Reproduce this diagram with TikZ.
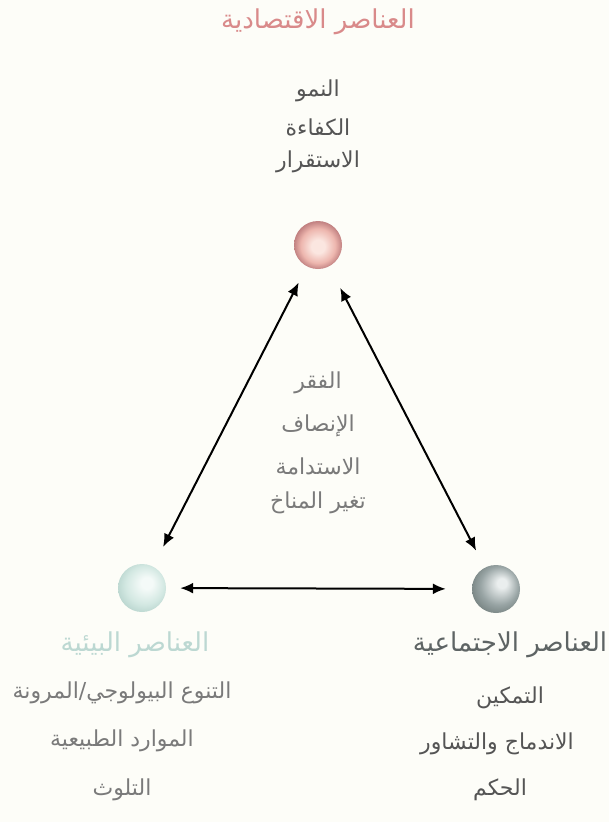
\documentclass[tikz,border=0pt]{standalone}
\usepackage{fontspec}
\usetikzlibrary{arrows.meta}
\TeXXeTstate=1
\newfontfamily\arabicfont[Script=Arabic]{DejaVu Sans}
\definecolor{bgc}{HTML}{FDFDF8}
\definecolor{ecoc}{HTML}{D98A8A}
\definecolor{envc}{HTML}{BCD8D2}
\definecolor{socc}{HTML}{5E6464}
\definecolor{txtc}{HTML}{555555}
\definecolor{midc}{HTML}{7A7A7A}
\definecolor{ecoA}{HTML}{FBE6E0}
\definecolor{ecoB}{HTML}{EDB6AE}
\definecolor{ecoC}{HTML}{C28282}
\definecolor{envA}{HTML}{F4FAF8}
\definecolor{envB}{HTML}{D3E8E2}
\definecolor{envC}{HTML}{AFCEC7}
\definecolor{socA}{HTML}{EAEEEE}
\definecolor{socB}{HTML}{98A4A4}
\definecolor{socC}{HTML}{65716F}
\pgfdeclareradialshading{ecoball}{\pgfpoint{0bp}{-2bp}}{color(0bp)=(ecoA); color(7bp)=(ecoA); color(18bp)=(ecoB); color(25bp)=(ecoC); color(30bp)=(ecoC)}
\pgfdeclareradialshading{envball}{\pgfpoint{6bp}{6bp}}{color(0bp)=(envA); color(6bp)=(envA); color(20bp)=(envB); color(32bp)=(envC); color(40bp)=(envC)}
\pgfdeclareradialshading{socball}{\pgfpoint{7bp}{7bp}}{color(0bp)=(socA); color(5bp)=(socA); color(20bp)=(socB); color(34bp)=(socC); color(40bp)=(socC)}
\begin{document}
\begin{tikzpicture}[x=1pt,y=-1pt,
  ar/.style={font=\arabicfont\fontsize{22}{24}\selectfont, inner sep=0pt, anchor=center},
  ttl/.style={ar, font=\arabicfont\fontsize{26}{28}\selectfont},
  sph/.style={circle, minimum size=48pt, inner sep=0pt},
  link/.style={line width=2pt, {Latex[length=13pt,width=11pt]}-{Latex[length=13pt,width=11pt]}}
]
\fill[bgc] (0,0) rectangle (609,822);
\useasboundingbox (0,0) rectangle (609,822);
% economic
\node[ttl, text=ecoc] (ecot) at (318,22) {\beginR العناصر الاقتصادية\endR};
\node[ar, text=txtc] (eco1) at (318,91) {\beginR النمو\endR};
\node[ar, text=txtc] (eco2) at (318,127) {\beginR الكفاءة\endR};
\node[ar, text=txtc] (eco3) at (318,162) {\beginR الاستقرار\endR};
\node[sph, shading=ecoball] (eco) at (318,245) {};
% environmental
\node[sph, shading=envball] (env) at (142,588) {};
\node[ttl, text=envc] (envt) at (135,645) {\beginR العناصر البيئية\endR};
\node[ar, text=midc] (env1) at (122,693) {\beginR التنوع البيولوجي/المرونة\endR};
\node[ar, text=midc] (env2) at (122,741) {\beginR الموارد الطبيعية\endR};
\node[ar, text=midc] (env3) at (122,790) {\beginR التلوث\endR};
% social
\node[sph, shading=socball] (soc) at (496,589) {};
\node[ttl, text=socc] (soct) at (510,645) {\beginR العناصر الاجتماعية\endR};
\node[ar, text=txtc] (soc1) at (510,698) {\beginR التمكين\endR};
\node[ar, text=txtc] (soc2) at (497,744) {\beginR الاندماج والتشاور\endR};
\node[ar, text=txtc] (soc3) at (500,790) {\beginR الحكم\endR};
% centre
\node[ar, text=midc] (c1) at (318,383) {\beginR الفقر\endR};
\node[ar, text=midc] (c2) at (318,426) {\beginR الإنصاف\endR};
\node[ar, text=midc] (c3) at (318,466) {\beginR الاستدامة\endR};
\node[ar, text=midc] (c4) at (318,503) {\beginR تغير المناخ\endR};
% links
\draw[link, shorten <=18pt, shorten >=22pt] (eco) -- (env);
\draw[link, shorten <=24pt, shorten >=19pt] (eco) -- (soc);
\draw[link, shorten <=14pt, shorten >=26pt] (env) -- (soc);
\end{tikzpicture}
\end{document}
